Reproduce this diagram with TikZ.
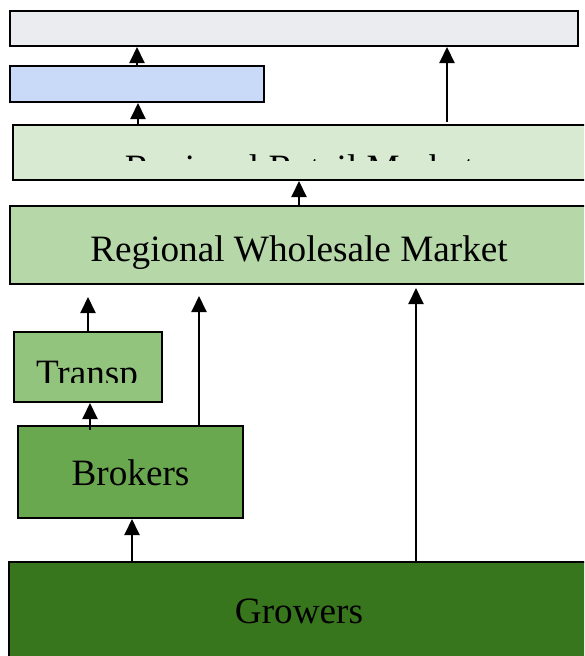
\documentclass[tikz,border=0pt]{standalone}
\usepackage{fontspec}
\setmainfont{Liberation Serif}
\usetikzlibrary{arrows.meta}
\definecolor{ctop}{HTML}{EBECF0}
\definecolor{cblue}{HTML}{C9DAF8}
\definecolor{cretail}{HTML}{D9EAD3}
\definecolor{cwhole}{HTML}{B6D7A8}
\definecolor{ctransp}{HTML}{93C47D}
\definecolor{cbroker}{HTML}{6AA84F}
\definecolor{cgrow}{HTML}{38761D}
\tikzset{
  box/.style={draw=black, line width=2pt, inner sep=0pt, rectangle},
  lbl/.style={anchor=base, inner sep=0pt, font=\fontsize{37.2}{40}\selectfont, text=black},
  arr/.style={line width=2pt, -{Triangle[length=16pt,width=15pt]}},
}
\begin{document}
\begin{tikzpicture}[x=1pt,y=-1pt]
\useasboundingbox (0,0) rectangle (584,656);
\clip (0,0) rectangle (584,656);
% boxes
\node[box, fill=ctop, minimum width=568pt, minimum height=35pt] (top) at (294,28.5) {};
\node[box, fill=cblue, minimum width=254pt, minimum height=36pt] (blue) at (137,84) {};
\node[box, fill=cretail, minimum width=573pt, minimum height=55pt] (retail) at (299.5,152.5) {};
\node[box, fill=cwhole, minimum width=578pt, minimum height=78pt] (whole) at (299,245) {};
\node[box, fill=ctransp, minimum width=148pt, minimum height=70pt] (transp) at (88,367) {};
\node[box, fill=cbroker, minimum width=225pt, minimum height=92pt] (brokers) at (130.5,472) {};
\node[box, fill=cgrow, minimum width=580pt, minimum height=98pt] (growers) at (299,611) {};
% labels
\begin{scope}
  \clip (13,125) rectangle (586,160.5);
  \node[lbl] (retailtxt) at (299.5,180.5) {Regional Retail Market};
\end{scope}
\node[lbl] (wholetxt) at (299,261) {Regional Wholesale Market};
\begin{scope}
  \clip (14,332) rectangle (162,382);
  \node[lbl] (transptxt) at (87,385) {Transp};
\end{scope}
\node[lbl] (brokerstxt) at (130.5,485) {Brokers};
\node[lbl] (growerstxt) at (299,623) {Growers};
% coordinates
\coordinate (rt) at (447,122);
\coordinate (tw) at (88,297);
\coordinate (bs) at (199,426);
\coordinate (bw) at (199,296);
\coordinate (gs) at (416,562);
\coordinate (gw) at (416,288);
\coordinate (bt) at (90,430);
\coordinate (gb) at (132,562);
% arrows
\draw[arr] (blue.north) -- (top.south -| blue.north);
\draw[arr] (retail.north -| 138,0) -- (blue.south -| 138,0);
\draw[arr] (rt) -- (top.south -| rt);
\draw[arr] (whole.north -| 299,0) -- (retail.south -| 299,0);
\draw[arr] (transp.north) -- (tw);
\draw[arr] (bs) -- (bw);
\draw[arr] (gs) -- (gw);
\draw[arr] (bt) -- (transp.south -| bt);
\draw[arr] (gb) -- (brokers.south -| gb);
\end{tikzpicture}
\end{document}
